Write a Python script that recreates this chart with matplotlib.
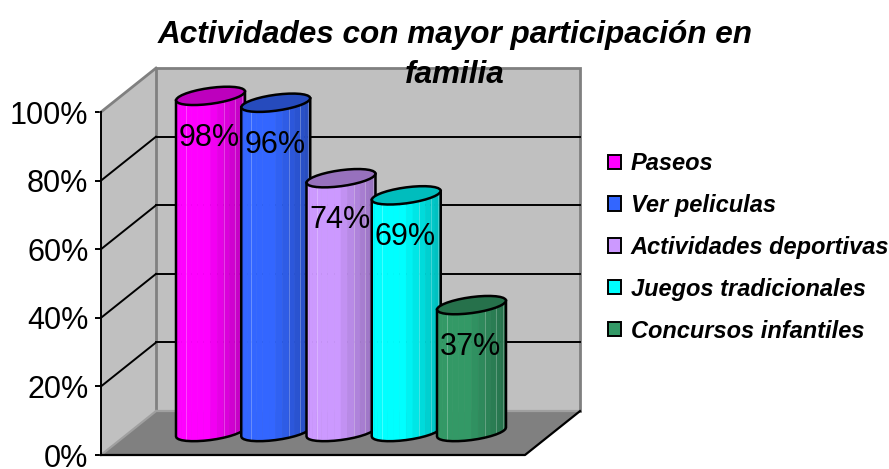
import numpy as np
import matplotlib
matplotlib.use("Agg")
import matplotlib.pyplot as plt
from matplotlib.patches import Patch

plt.rcParams['font.family'] = ['Liberation Sans', 'DejaVu Sans']

title = "Actividades con mayor participación en\nfamilia"
categories = ["Paseos", "Ver peliculas", "Actividades deportivas",
              "Juegos tradicionales", "Concursos infantiles"]
values = [98, 96, 74, 69, 37]
value_labels = ["98%", "96%", "74%", "69%", "37%"]
bar_colors = ["#FF00FF", "#3366FF", "#CC99FF", "#00FFFF", "#339966"]
y_ticks = [0, 20, 40, 60, 80, 100]
y_tick_labels = ["0%", "20%", "40%", "60%", "80%", "100%"]

# scale of the value axis: pixels per percent, and where 0% sits
PX_PER_UNIT = 3.43
ZERO_PX = 455.0
WIDTH, HEIGHT = 889, 469

# 3D look: offset of the back wall
DEPTH_X = 55
DEPTH_Y = 12.8
LEFT = 101
RIGHT = 525

# cylinders
BAR_START = 176
BAR_STEP = 65.25
BAR_WIDTH = 69
BASE = 6.7
ELL_B = 8 / PX_PER_UNIT
ELL_K = 4.5 / PX_PER_UNIT
N_SIDES = 16
PALE_SIDES = (4, 10, 12, 14)


def ring(cx, cy, angles):
    # tilted ellipse, right end sits higher than the left one
    x = cx + BAR_WIDTH / 2 * np.cos(angles)
    y = cy + ELL_B * np.sin(angles) + ELL_K * np.cos(angles)
    return x, y


def shade(color, factor):
    rgb = np.array(matplotlib.colors.to_rgb(color))
    return tuple(rgb * factor)


def draw_walls(ax):
    wall = "#C0C0C0"
    edge = "#808080"
    ax.fill([LEFT, LEFT + DEPTH_X, LEFT + DEPTH_X, LEFT],
            [0, DEPTH_Y, 100 + DEPTH_Y, 100], color=wall, zorder=1, lw=0)
    ax.fill([LEFT + DEPTH_X, RIGHT + DEPTH_X, RIGHT + DEPTH_X, LEFT + DEPTH_X],
            [DEPTH_Y, DEPTH_Y, 100 + DEPTH_Y, 100 + DEPTH_Y],
            facecolor=wall, edgecolor=edge, lw=2, zorder=1)
    ax.fill([LEFT, LEFT + DEPTH_X, RIGHT + DEPTH_X, RIGHT],
            [0, DEPTH_Y, DEPTH_Y, 0], color=edge, zorder=2, lw=0)

    # gridlines on the back and left wall
    for tick in y_ticks[1:-1]:
        ax.plot([LEFT + DEPTH_X, RIGHT + DEPTH_X],
                [tick + DEPTH_Y, tick + DEPTH_Y], color="black", lw=1.4, zorder=2)
    for tick in y_ticks[1:-1]:
        ax.plot([LEFT, LEFT + DEPTH_X], [tick, tick + DEPTH_Y],
                color="black", lw=1.4, zorder=2)

    ax.plot([LEFT, LEFT + DEPTH_X], [100, 100 + DEPTH_Y], color=edge, lw=2, zorder=2)
    ax.plot([LEFT, LEFT + DEPTH_X], [0, DEPTH_Y], color="#A0A0A0", lw=1.6, zorder=3)
    ax.plot([LEFT + DEPTH_X, RIGHT + DEPTH_X], [DEPTH_Y, DEPTH_Y],
            color="#A0A0A0", lw=1.6, zorder=3)
    ax.plot([LEFT, RIGHT, RIGHT + DEPTH_X], [0, 0, DEPTH_Y], color="black", lw=1.6, zorder=3)


def draw_bar(ax, i, value, color, label):
    cx = BAR_START + BAR_STEP * i + BAR_WIDTH / 2
    top = BASE + value
    z = 10 + i
    angles = np.linspace(np.pi, 2 * np.pi, N_SIDES + 1)
    low_x, low_y = ring(cx, BASE, angles)
    top_x, top_y = ring(cx, top, angles)

    # one strip per side of the cylinder, darker towards the right
    for j in range(N_SIDES):
        u = ((low_x[j] + low_x[j + 1]) / 2 - cx) / BAR_WIDTH + 0.5
        factor = 1.0 if u < 0.45 else 1.0 - (u - 0.45) * 0.5
        c = shade(color, factor)
        ax.fill([low_x[j], low_x[j + 1], top_x[j + 1], top_x[j]],
                [low_y[j], low_y[j + 1], top_y[j + 1], top_y[j]],
                facecolor=c, edgecolor=c, lw=0.4, zorder=z)

    # faint seams between the sides
    for j in PALE_SIDES:
        ax.plot([low_x[j], top_x[j]], [low_y[j], top_y[j]], color="white",
                lw=0.6, alpha=0.3, zorder=z)

    ax.plot(np.r_[top_x[0], low_x, top_x[-1]], np.r_[top_y[0], low_y, top_y[-1]],
            color="black", lw=1.8, zorder=z)

    # lid
    lid = np.linspace(0, 2 * np.pi, 2 * N_SIDES + 1)
    lid_x, lid_y = ring(cx, top, lid)
    ax.fill(lid_x, lid_y, facecolor=shade(color, 0.74), edgecolor="black", lw=1.8, zorder=z + 0.5)

    ax.text(cx - 1, top - 12.2, label, ha="center", va="center", fontsize=22,
            color="black", zorder=30)


def main():
    fig = plt.figure(figsize=(WIDTH / 100, HEIGHT / 100), dpi=100)
    ax = fig.add_axes([0, 0, 1, 1])
    ax.set_xlim(0, WIDTH)
    ax.set_ylim((ZERO_PX - HEIGHT) / PX_PER_UNIT, ZERO_PX / PX_PER_UNIT)
    ax.patch.set_visible(False)

    for side in ["top", "right", "bottom"]:
        ax.spines[side].set_visible(False)
    ax.spines["left"].set_position(("data", LEFT))
    ax.spines["left"].set_bounds(0, 100)
    ax.spines["left"].set_linewidth(1.4)
    ax.spines["left"].set_zorder(5)
    ax.set_xticks([])
    ax.set_yticks(y_ticks)
    ax.set_yticklabels(y_tick_labels, fontsize=22)
    ax.tick_params(axis="y", length=4, width=1.4, pad=5)

    draw_walls(ax)
    for i, value in enumerate(values):
        draw_bar(ax, i, value, bar_colors[i], value_labels[i])

    fig.text(455 / WIDTH, 1 - 55 / HEIGHT, title, ha="center", va="center",
             fontsize=22.7, fontweight="bold", fontstyle="italic", linespacing=1.42, zorder=40)

    handles = [Patch(facecolor=c, edgecolor="black", lw=1.4) for c in bar_colors]
    legend = ax.legend(handles, categories, loc="upper left",
                       bbox_to_anchor=(608 / WIDTH, 1 - 152 / HEIGHT),
                       frameon=False, handlelength=0.55, handleheight=0.55,
                       handletextpad=0.42, labelspacing=0.8, borderpad=0, borderaxespad=0,
                       prop={"size": 17, "weight": "bold", "style": "italic"})
    legend.set_zorder(40)

    fig.savefig("out.png", dpi=100)


if __name__ == "__main__":
    main()
